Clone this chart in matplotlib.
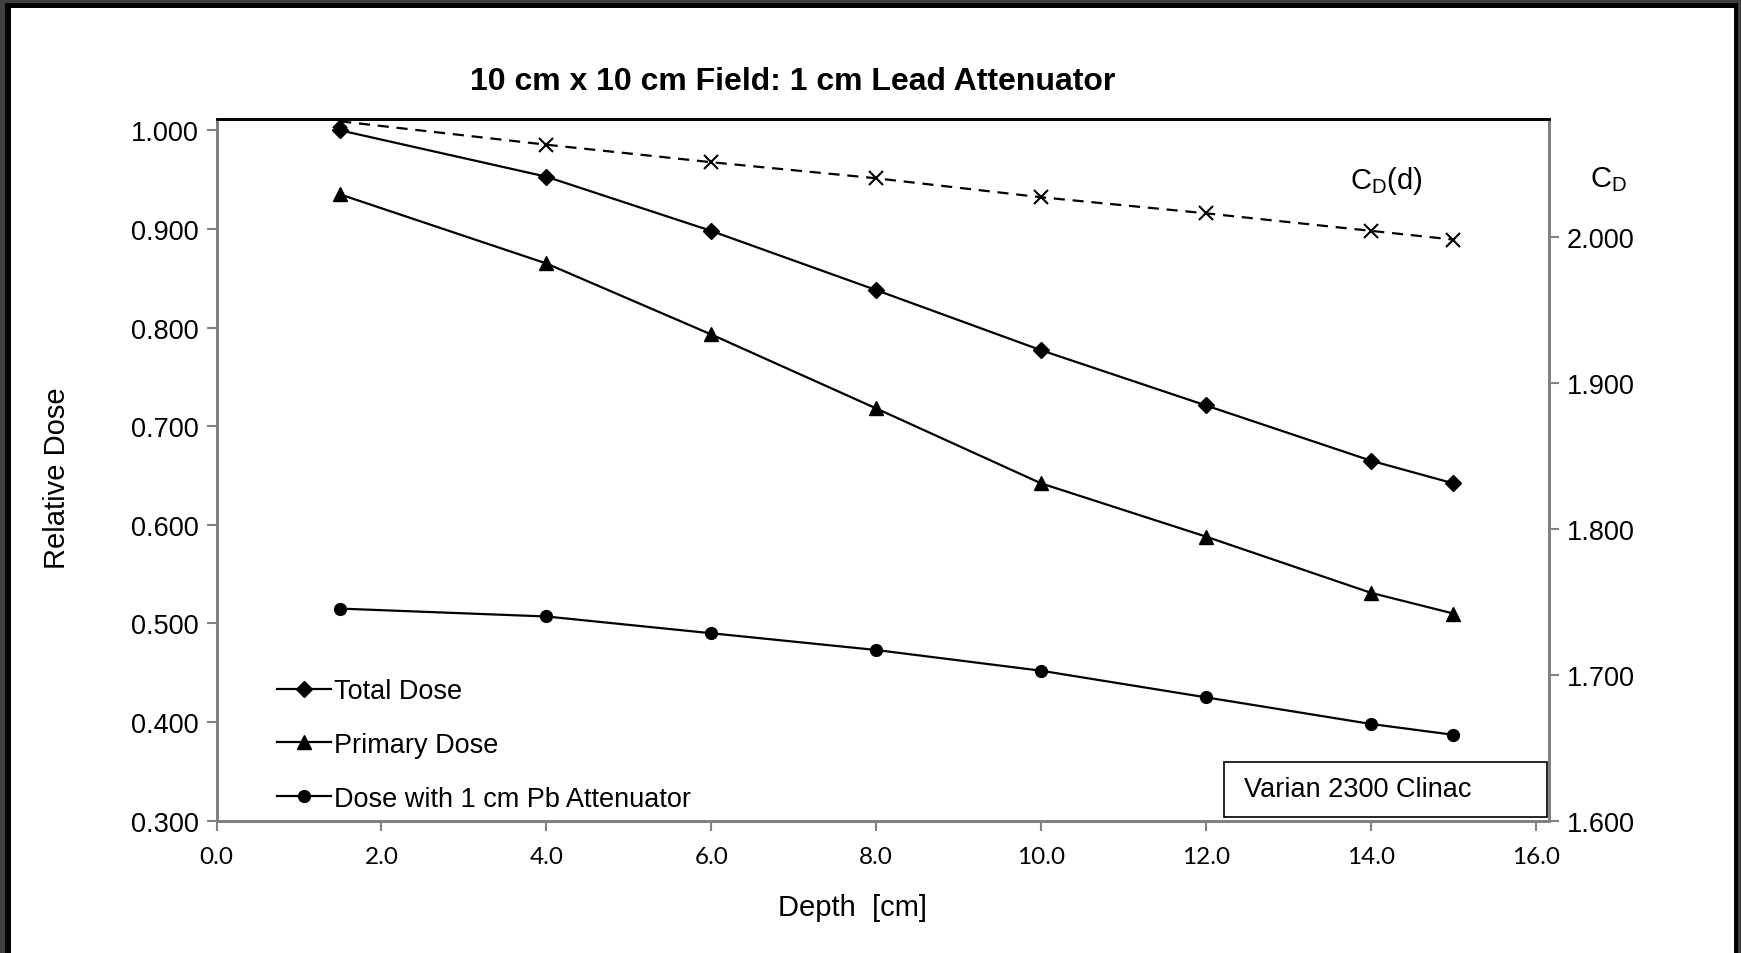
import matplotlib
matplotlib.use("Agg")
import matplotlib.pyplot as plt
from matplotlib.patches import Rectangle
from matplotlib.ticker import FormatStrFormatter

# data
depth = [1.5, 4.0, 6.0, 8.0, 10.0, 12.0, 14.0, 15.0]
total_dose = [1.000, 0.953, 0.898, 0.838, 0.777, 0.721, 0.665, 0.642]
primary_dose = [0.935, 0.865, 0.793, 0.718, 0.642, 0.588, 0.531, 0.510]
pb_dose = [0.515, 0.507, 0.490, 0.473, 0.452, 0.425, 0.398, 0.387]
cd = [2.079, 2.063, 2.051, 2.040, 2.027, 2.016, 2.004, 1.998]

left_ticks = [0.3, 0.4, 0.5, 0.6, 0.7, 0.8, 0.9, 1.0]
right_ticks = [1.6, 1.7, 1.8, 1.9, 2.0]
x_ticks = [0, 2, 4, 6, 8, 10, 12, 14, 16]

plt.rcParams['font.family'] = ['Liberation Sans', 'DejaVu Sans']
plt.rcParams['mathtext.fontset'] = 'custom'
plt.rcParams['mathtext.rm'] = 'Liberation Sans'
plt.rcParams['mathtext.it'] = 'Liberation Sans'

W, H = 1741, 954
fig = plt.figure(figsize=(W / 100, H / 100), dpi=100)
ax = fig.add_axes([216.5 / W, 1 - 821.6 / H, 1332.5 / W, 701.6 / H])
ax2 = ax.twinx()

ax.plot(depth, total_dose, color='black', lw=1.6, marker='D', ms=8.5, label='Total Dose')
ax.plot(depth, primary_dose, color='black', lw=1.6, marker='^', ms=10.5, label='Primary Dose')
ax.plot(depth, pb_dose, color='black', lw=1.6, marker='o', ms=8.5, label='Dose with 1 cm Pb Attenuator')
ax2.plot(depth, cd, color='black', lw=1.6, ls=(0, (5, 3.5)), marker='x', ms=10, mew=1.5)

ax.set_xlim(0, 16.16)
ax.set_ylim(0.3, 1.0115)
ax2.set_ylim(1.6, 2.0806)
ax.set_xticks(x_ticks)
ax.set_yticks(left_ticks)
ax2.set_yticks(right_ticks)
ax.xaxis.set_major_formatter(FormatStrFormatter('%.1f'))
ax.yaxis.set_major_formatter(FormatStrFormatter('%.3f'))
ax2.yaxis.set_major_formatter(FormatStrFormatter('%.3f'))

gray = '#808080'
for a in (ax, ax2):
    for s in a.spines.values():
        s.set_color(gray)
        s.set_linewidth(2)
    a.spines['top'].set_color('black')
ax.tick_params(axis='y', direction='out', length=7, width=1.5, color=gray, labelsize=19.5, pad=6)
ax.tick_params(axis='x', direction='out', length=7, width=1.5, color=gray, pad=11)
ax2.tick_params(axis='y', direction='out', length=7, width=1.5, color=gray, labelsize=19.5, pad=6)
for lab in ax.get_xticklabels():
    lab.set_fontfamily('Lato')
    lab.set_fontsize(17.5)

ax.set_xlabel('Depth  [cm]', fontsize=21)
ax.xaxis.set_label_coords(0.4775, -0.103)
ax.set_ylabel('Relative Dose', fontsize=21)
ax.yaxis.set_label_coords(-0.1095, 0.49)
fig.text(714 * 1.1103 / W, 1 - 74 * 1.1103 / H, '10 cm x 10 cm Field: 1 cm Lead Attenuator',
         ha='center', va='center', fontsize=23, fontweight='bold')

fig.text(1386 / W, 1 - 181 / H, r'C$_\mathrm{D}$(d)', ha='center', va='center', fontsize=21)
fig.text(1608 / W, 1 - 180 / H, r'C$_\mathrm{D}$', ha='center', va='center', fontsize=21)

leg = ax.legend(loc='upper left', bbox_to_anchor=(277 / W, 1 - 679 / H),
                bbox_transform=fig.transFigure, frameon=False, fontsize=19.5,
                handlelength=2.0, handletextpad=0.1, labelspacing=1.03, borderpad=0,
                borderaxespad=0)

# instrument note box
fig.add_artist(Rectangle((1223.5 / W, 1 - 818.3 / H), 323 / W, 55.5 / H,
                         transform=fig.transFigure, facecolor='white',
                         edgecolor='black', lw=1.2, zorder=5))
fig.text(1243.5 / W, 1 - 790.5 / H, 'Varian 2300 Clinac', ha='left', va='center',
         fontsize=19.5, zorder=6)

# outer frame
def band(x0, y0, w, h, color):
    fig.add_artist(Rectangle((x0 / W, 1 - (y0 + h) / H), w / W, h / H,
                             transform=fig.transFigure, facecolor=color,
                             edgecolor='none', zorder=10))

band(0, 0, W, 4, '#404040')
band(0, 0, 5, H, '#404040')
band(1738, 0, 3, H, '#404040')
band(5, 4, 1733, 5, 'black')
band(5, 4, 6, H, 'black')
band(1734, 4, 4, H, 'black')

fig.savefig('out.png', dpi=100)
